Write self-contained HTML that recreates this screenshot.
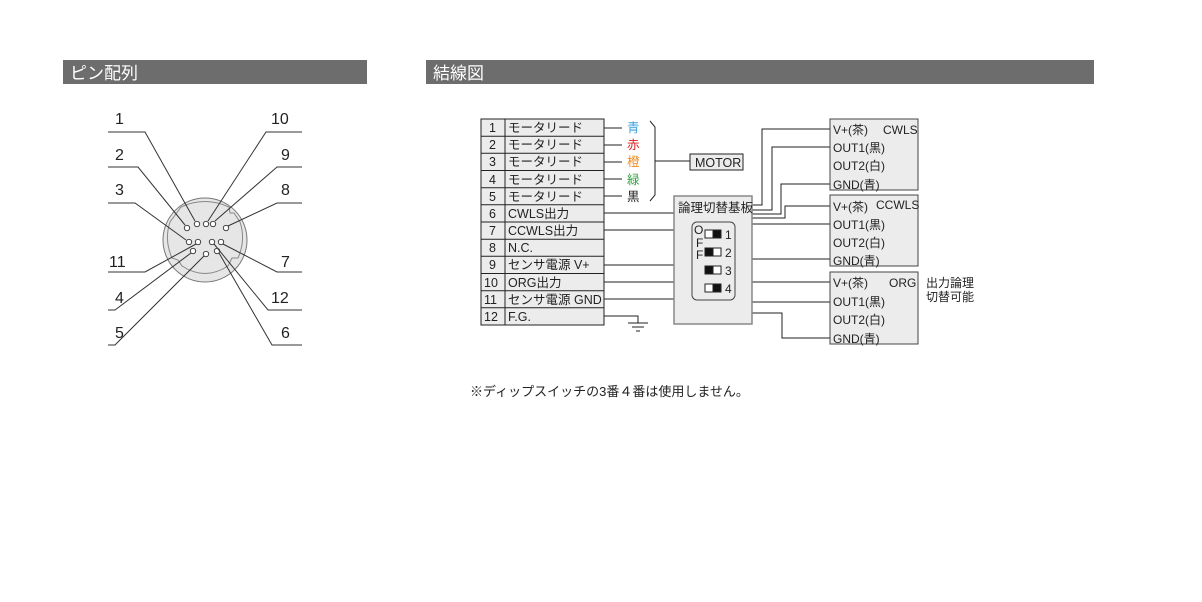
<!DOCTYPE html>
<html><head><meta charset="utf-8"><style>
html,body{margin:0;padding:0;background:#fff;}
svg{display:block;font-family:"Liberation Sans","Noto Sans CJK JP",sans-serif;}
</style></head><body>
<svg width="1202" height="602" viewBox="0 0 1202 602" xmlns="http://www.w3.org/2000/svg">
<rect x="63" y="60" width="304" height="24" fill="#6d6d6d"/>
<text x="70" y="79" font-size="17" fill="#fff">ピン配列</text>
<rect x="426" y="60" width="668" height="24" fill="#6d6d6d"/>
<text x="433" y="79" font-size="17" fill="#fff">結線図</text>

<!-- connector -->
<g stroke="#555" stroke-width="1" fill="none">
<circle cx="205" cy="240" r="42" fill="#e6e6e6" stroke="#777"/>
<path d="M181 207 Q205 196 229 207 L230 213 L234 213 L240 222 Q246 240 238 258 L232 258 L228 266 Q205 281 182 266 L178 260 L172 258 Q164 240 170 222 Z" stroke="#888" fill="#e6e6e6"/>
</g>
<g stroke="#333" stroke-width="0.9" fill="#fff">
<circle cx="197" cy="224" r="2.7"/><circle cx="206" cy="224" r="2.7"/><circle cx="213" cy="224" r="2.7"/>
<circle cx="187" cy="228" r="2.7"/><circle cx="226" cy="228" r="2.7"/>
<circle cx="189" cy="242" r="2.7"/><circle cx="198" cy="242" r="2.7"/><circle cx="212" cy="242" r="2.7"/><circle cx="221" cy="242" r="2.7"/>
<circle cx="193" cy="251" r="2.7"/><circle cx="206" cy="254" r="2.7"/><circle cx="217" cy="251" r="2.7"/>
</g>
<g stroke="#333" stroke-width="1" fill="none">
<path d="M108 132H145L195 221"/><path d="M108 167H138L185 225"/><path d="M108 203H135L186 240"/>
<path d="M108 272H145L196 244"/><path d="M108 310H115L191 253"/><path d="M108 345H115L204 256"/>
<path d="M302 132H266L208 221"/><path d="M302 167H277L215 221"/><path d="M302 203H277L228 226"/>
<path d="M302 272H277L223 244"/><path d="M302 310H268L214 244"/><path d="M302 345H272L219 253"/>
</g>
<g font-size="16" fill="#222">
<text x="115" y="124">1</text><text x="115" y="160">2</text><text x="115" y="195">3</text><text x="109" y="267">11</text><text x="115" y="303">4</text><text x="115" y="338">5</text>
<text x="271" y="124">10</text><text x="281" y="160">9</text><text x="281" y="195">8</text><text x="281" y="267">7</text><text x="271" y="303">12</text><text x="281" y="338">6</text>
</g>

<!-- table -->
<g stroke="#222" stroke-width="1">
<rect x="481" y="119" width="123" height="206" fill="#ececec"/>
<line x1="505" y1="119" x2="505" y2="325"/>
<line x1="481" y1="136.2" x2="604" y2="136.2"/><line x1="481" y1="153.3" x2="604" y2="153.3"/><line x1="481" y1="170.5" x2="604" y2="170.5"/><line x1="481" y1="187.7" x2="604" y2="187.7"/><line x1="481" y1="204.8" x2="604" y2="204.8"/><line x1="481" y1="222" x2="604" y2="222"/><line x1="481" y1="239.2" x2="604" y2="239.2"/><line x1="481" y1="256.3" x2="604" y2="256.3"/><line x1="481" y1="273.5" x2="604" y2="273.5"/><line x1="481" y1="290.7" x2="604" y2="290.7"/><line x1="481" y1="307.8" x2="604" y2="307.8"/>
</g>
<g font-size="12.5" fill="#222">
<text x="489" y="132">1</text><text x="508" y="132">モータリード</text>
<text x="489" y="149">2</text><text x="508" y="149">モータリード</text>
<text x="489" y="166">3</text><text x="508" y="166">モータリード</text>
<text x="489" y="184">4</text><text x="508" y="184">モータリード</text>
<text x="489" y="201">5</text><text x="508" y="201">モータリード</text>
<text x="489" y="218">6</text><text x="508" y="218">CWLS出力</text>
<text x="489" y="235">7</text><text x="508" y="235">CCWLS出力</text>
<text x="489" y="252">8</text><text x="508" y="252">N.C.</text>
<text x="489" y="269">9</text><text x="508" y="269">センサ電源 V+</text>
<text x="484" y="287">10</text><text x="508" y="287">ORG出力</text>
<text x="484" y="304">11</text><text x="508" y="304">センサ電源 GND</text>
<text x="484" y="321">12</text><text x="508" y="321">F.G.</text>
</g>
<g font-size="12.5">
<text x="627" y="132" fill="#3aa0e0">青</text><text x="627" y="149" fill="#e02020">赤</text><text x="627" y="166" fill="#f08a20">橙</text><text x="627" y="184" fill="#30a040">緑</text><text x="627" y="201" fill="#222">黒</text>
</g>
<g stroke="#222" stroke-width="1" fill="none">
<path d="M604 128H622M604 145H622M604 162H622M604 179H622M604 196H622"/>
<path d="M650 121L655 127V195L650 201"/>
<path d="M655 161H690"/>
<path d="M604 213H674M604 230H674M604 265H674M604 282H674M604 299H674"/>
<path d="M604 316H638V323M628 323H648M632 327H644M636 331H640"/>
<path d="M752 205H762V129H830M752 210H772V147H830M752 214H781V184H830M752 218H785V206H830M752 224H792V224H830M752 259H830M752 282H830M752 302H830M752 313H782V338H830"/>
</g>
<rect x="690" y="154" width="53" height="16" fill="#ececec" stroke="#222"/>
<text x="695" y="167" font-size="12.5" fill="#222">MOTOR</text>

<!-- board -->
<rect x="674" y="196" width="78" height="128" fill="#ececec" stroke="#888" stroke-width="1.5"/>
<text x="678" y="212" font-size="12.5" fill="#222">論理切替基板</text>
<rect x="692" y="222" width="43" height="78" rx="5" fill="#ececec" stroke="#444"/>
<g stroke="#222" fill="#fff">
<rect x="705" y="230" width="16" height="8"/><rect x="713" y="230" width="8" height="8" fill="#111"/>
<rect x="705" y="248" width="16" height="8"/><rect x="705" y="248" width="8" height="8" fill="#111"/>
<rect x="705" y="266" width="16" height="8"/><rect x="705" y="266" width="8" height="8" fill="#111"/>
<rect x="705" y="284" width="16" height="8"/><rect x="713" y="284" width="8" height="8" fill="#111"/>
</g>
<g font-size="12" fill="#222">
<text x="694" y="234">O</text><text x="696" y="247">F</text><text x="696" y="259">F</text>
<text x="725" y="239">1</text><text x="725" y="257">2</text><text x="725" y="275">3</text><text x="725" y="293">4</text>
</g>

<!-- sensors -->
<g fill="#ececec" stroke="#444">
<rect x="830" y="119" width="88" height="71"/><rect x="830" y="195" width="88" height="71"/><rect x="830" y="272" width="88" height="72"/>
</g>
<g font-size="12" fill="#222">
<text x="833" y="134">V+(茶)</text><text x="883" y="134">CWLS</text><text x="833" y="152">OUT1(黒)</text><text x="833" y="170">OUT2(白)</text><text x="833" y="189">GND(青)</text>
<text x="833" y="211">V+(茶)</text><text x="876" y="209">CCWLS</text><text x="833" y="229">OUT1(黒)</text><text x="833" y="247">OUT2(白)</text><text x="833" y="265">GND(青)</text>
<text x="833" y="287">V+(茶)</text><text x="889" y="287">ORG</text><text x="833" y="306">OUT1(黒)</text><text x="833" y="324">OUT2(白)</text><text x="833" y="343">GND(青)</text>
<text x="926" y="287">出力論理</text><text x="926" y="301">切替可能</text>
</g>
<text x="470" y="396" font-size="13" fill="#222">※ディップスイッチの3番４番は使用しません。</text>
</svg>
</body></html>
